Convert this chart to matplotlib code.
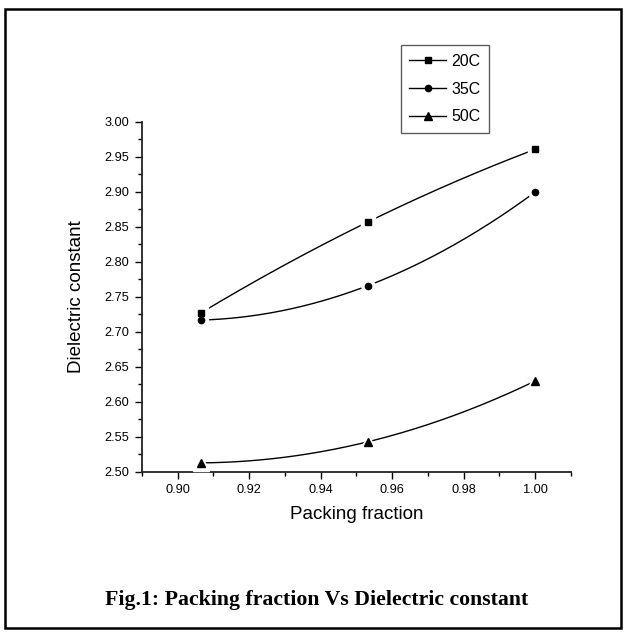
import numpy as np
import matplotlib
matplotlib.use('Agg')
import matplotlib.pyplot as plt
from matplotlib.ticker import MultipleLocator, FormatStrFormatter
from matplotlib.patches import Rectangle

# packing fraction vs dielectric constant at three temperatures
packing = [0.9064, 0.9531, 1.000]
eps_20 = [2.727, 2.857, 2.961]
eps_35 = [2.717, 2.766, 2.900]
eps_50 = [2.513, 2.543, 2.630]

series = [
    ('20C', eps_20, 's', 4.5),
    ('35C', eps_35, 'o', 4.5),
    ('50C', eps_50, '^', 6.0),
]

plt.rcParams['font.family'] = ['Liberation Sans', 'DejaVu Sans']

fig = plt.figure(figsize=(6.26, 6.36), dpi=100)
ax = fig.add_axes([0.2268, 0.2579, 0.6853, 0.5503])

handles = []
for label, vals, mk, ms in series:
    # smooth connector through the three points (quadratic)
    coef = np.polyfit(packing, vals, 2)
    xs = np.linspace(packing[0], packing[-1], 200)
    ax.plot(xs, np.polyval(coef, xs), color='black', lw=1.0, zorder=2)
    # white halo gives the small gap between marker and line
    ax.plot(packing, vals, ls='none', marker=mk, ms=ms + 5, mfc='white',
            mec='white', zorder=3)
    ax.plot(packing, vals, ls='none', marker=mk, ms=ms, mfc='black',
            mec='black', zorder=4)
    h, = ax.plot([], [], color='black', lw=1.0, marker=mk, ms=ms,
                 mfc='black', mec='black', label=label)
    handles.append(h)

ax.set_xlim(0.89, 1.01)
ax.set_ylim(2.50, 3.00)
ax.xaxis.set_major_locator(MultipleLocator(0.02))
ax.xaxis.set_minor_locator(MultipleLocator(0.01))
ax.yaxis.set_major_locator(MultipleLocator(0.05))
ax.yaxis.set_minor_locator(MultipleLocator(0.025))
ax.xaxis.set_major_formatter(FormatStrFormatter('%.2f'))
ax.yaxis.set_major_formatter(FormatStrFormatter('%.2f'))

for s in ['top', 'right']:
    ax.spines[s].set_visible(False)
for s in ['left', 'bottom']:
    ax.spines[s].set_linewidth(1.3)
    ax.spines[s].set_color('#222222')

ax.tick_params(which='major', direction='out', length=5, width=1, labelsize=9.2, pad=4)
ax.tick_params(which='minor', direction='out', length=3, width=1)

ax.set_xlabel('Packing fraction', fontsize=13.5, labelpad=7)
ax.set_ylabel('Dielectric constant', fontsize=13.5, labelpad=14)

leg = ax.legend(handles=handles, loc='upper left', bbox_to_anchor=(0.603, 1.22),
                frameon=True, fancybox=False, edgecolor='#333333',
                fontsize=11.5, handlelength=2.3, handletextpad=0.3,
                borderpad=0.55, labelspacing=0.8, borderaxespad=0)
leg.get_frame().set_linewidth(1.0)

fig.text(0.505, 1 - 600 / 636, 'Fig.1: Packing fraction Vs Dielectric constant',
         ha='center', va='center', fontsize=15.7, fontweight='bold',
         family=['Liberation Serif', 'DejaVu Serif'])

# outer frame round the whole figure
fig.patches.append(Rectangle((5 / 626, 1 - 628 / 636), 616 / 626, 619 / 636,
                             transform=fig.transFigure, fill=False,
                             edgecolor='black', lw=1.8))

fig.savefig('out.png', dpi=100)
